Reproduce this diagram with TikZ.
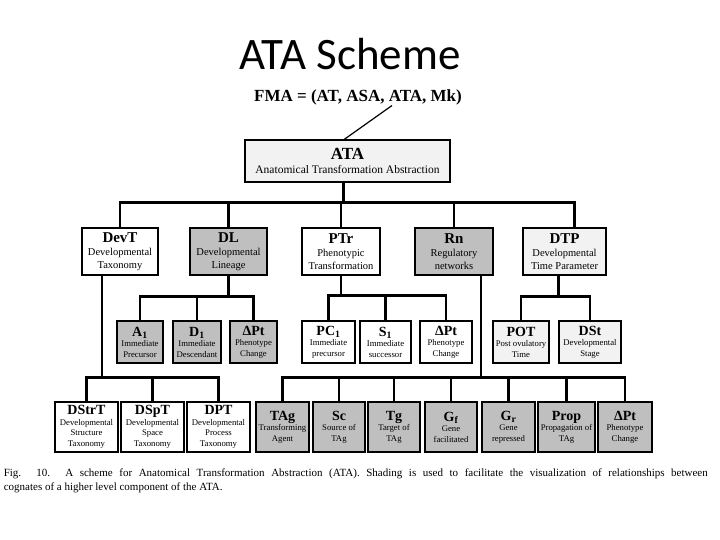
\documentclass[tikz,border=0pt]{standalone}
\usepackage{fontspec}
\setmainfont{Liberation Serif}
\newfontfamily\titlefont{Carlito}
\usepackage{tikz}

\begin{document}
\begin{tikzpicture}[x=1pt,y=-1pt,
    every node/.style={draw, line width=1.6pt, align=center, inner sep=0pt, font=\fontsize{8.7}{10.5}\selectfont},
    big/.style={font=\fontsize{10.5}{13}\selectfont, minimum height=47pt},
    small/.style={minimum height=42pt},
    low/.style={minimum height=50pt},
    conn/.style={line width=2.8pt, line join=miter},
    gray/.style={fill=black!25},
    pale/.style={fill=black!5}]
    \useasboundingbox (0,0) rectangle (720,540);
    \node[draw=none, font=\titlefont\fontsize{45}{45}\selectfont] (title) at (350,54) {ATA Scheme};
    \node[draw=none, font=\fontsize{17}{18}\selectfont\bfseries] (FMA) at (358,97) {FMA = (AT, ASA, ATA, Mk)};
    \node[pale, minimum width=205pt, minimum height=42pt, font=\fontsize{11.5}{14}\selectfont] (ATA) at (347.5,161)
        {{\fontsize{17}{19}\selectfont\bfseries ATA}\\Anatomical Transformation Abstraction};

    % first level
    \node[big, minimum width=76pt] (DevT) at (120,251.5) {{\fontsize{15}{16}\selectfont\bfseries DevT}\\Developmental\\Taxonomy};
    \node[big, gray, minimum width=77pt] (DL) at (228.5,251.5) {{\fontsize{15}{16}\selectfont\bfseries DL}\\Developmental\\Lineage};
    \node[big, minimum width=78pt] (PTr) at (341,251.5) {{\fontsize{15}{16}\selectfont\bfseries PTr}\\Phenotypic\\Transformation};
    \node[big, gray, minimum width=78pt] (Rn) at (454,251.5) {{\fontsize{15}{16}\selectfont\bfseries Rn}\\Regulatory\\networks};
    \node[big, pale, minimum width=83pt] (DTP) at (564.5,251.5) {{\fontsize{15}{16}\selectfont\bfseries DTP}\\Developmental\\Time Parameter};

    % second level
    \node[small, gray, minimum width=46pt] (A1) at (140,342) {{\fontsize{14}{15}\selectfont\bfseries A\textsubscript{1}}\\Immediate\\Precursor};
    \node[small, gray, minimum width=48pt] (D1) at (197,342) {{\fontsize{14}{15}\selectfont\bfseries D\textsubscript{1}}\\Immediate\\Descendant};
    \node[small, gray, minimum width=47pt] (dPtA) at (253.5,342) {{\fontsize{14}{15}\selectfont\bfseries ΔPt}\\Phenotype\\Change};
    \node[small, minimum width=53pt] (PC1) at (328.5,342) {{\fontsize{14}{15}\selectfont\bfseries PC\textsubscript{1}}\\Immediate\\precursor};
    \node[small, minimum width=51pt] (S1) at (385.5,342) {{\fontsize{14}{15}\selectfont\bfseries S\textsubscript{1}}\\Immediate\\successor};
    \node[small, minimum width=52pt] (dPtB) at (446,342) {{\fontsize{14}{15}\selectfont\bfseries ΔPt}\\Phenotype\\Change};
    \node[small, pale, minimum width=56pt] (POT) at (521,342) {{\fontsize{14}{15}\selectfont\bfseries POT}\\Post ovulatory\\Time};
    \node[small, pale, minimum width=62pt] (DSt) at (590,342) {{\fontsize{14}{15}\selectfont\bfseries DSt}\\Developmental\\Stage};

    % third level
    \node[low, minimum width=63pt] (DStrT) at (86.5,427) {{\fontsize{14}{15}\selectfont\bfseries DStrT}\\Developmental\\Structure\\Taxonomy};
    \node[low, minimum width=63pt] (DSpT) at (152.5,427) {{\fontsize{14}{15}\selectfont\bfseries DSpT}\\Developmental\\Space\\Taxonomy};
    \node[low, minimum width=63pt] (DPT) at (218.5,427) {{\fontsize{14}{15}\selectfont\bfseries DPT}\\Developmental\\Process\\Taxonomy};
    \node[low, gray, minimum width=53pt] (TAg) at (282.5,427) {{\fontsize{14}{15}\selectfont\bfseries TAg}\\Transforming\\Agent};
    \node[low, gray, minimum width=52pt] (Sc) at (339,427) {{\fontsize{14}{15}\selectfont\bfseries Sc}\\Source of\\TAg};
    \node[low, gray, minimum width=52pt] (Tg) at (394,427) {{\fontsize{14}{15}\selectfont\bfseries Tg}\\Target of\\TAg};
    \node[low, gray, minimum width=52pt] (Gf) at (451,427) {{\fontsize{14}{15}\selectfont\bfseries G\textsubscript{f}}\\Gene\\facilitated};
    \node[low, gray, minimum width=53pt] (Gr) at (508.5,427) {{\fontsize{14}{15}\selectfont\bfseries G\textsubscript{r}}\\Gene\\repressed};
    \node[low, gray, minimum width=57pt] (Prop) at (566.5,427) {{\fontsize{14}{15}\selectfont\bfseries Prop}\\Propagation of\\TAg};
    \node[low, gray, minimum width=54pt] (dPtC) at (625,427) {{\fontsize{14}{15}\selectfont\bfseries ΔPt}\\Phenotype\\Change};

    \node[draw=none, anchor=north west, text width=704pt, align=justify, font=\fontsize{11}{14}\selectfont] (caption) at (3,468)
        {Fig. 10. A scheme for Anatomical Transformation Abstraction (ATA). Shading is used to facilitate the visualization of relationships between\linebreak cognates of a higher level component of the ATA.};

    \draw[line width=1.2pt] ([xshift=34pt]FMA.south) -- ([xshift=-3pt]ATA.north);

    \draw[conn] ([xshift=-4pt]ATA.south) -- ++(0,20) -| (DevT.north);
    \draw[conn] ([xshift=-4pt]ATA.south) -- ++(0,20) -| (DL.north);
    \draw[conn] ([xshift=-4pt]ATA.south) -- ++(0,20) -| (PTr.north);
    \draw[conn] ([xshift=-4pt]ATA.south) -- ++(0,20) -| (Rn.north);
    \draw[conn] ([xshift=-4pt]ATA.south) -- ++(0,20) -| ([xshift=10pt]DTP.north);

    \draw[conn] (DL.south) -- ++(0,21) -| (A1.north);
    \draw[conn] (DL.south) -- ++(0,21) -| (D1.north);
    \draw[conn] (DL.south) -- ++(0,21) -| (dPtA.north);
    \draw[conn] (PTr.south) -- ++(0,20) -| (PC1.north);
    \draw[conn] (PTr.south) -- ++(0,20) -| (S1.north);
    \draw[conn] (PTr.south) -- ++(0,20) -| (dPtB.north);
    \draw[conn] ([xshift=-6pt]DTP.south) -- ++(0,21) -| (POT.north);
    \draw[conn] ([xshift=-6pt]DTP.south) -- ++(0,21) -| (DSt.north);

    \draw[conn] ([xshift=-18pt]DevT.south) -- ++(0,102) -| (DStrT.north);
    \draw[conn] ([xshift=-18pt]DevT.south) -- ++(0,102) -| (DSpT.north);
    \draw[conn] ([xshift=-18pt]DevT.south) -- ++(0,102) -| (DPT.north);
    \foreach \c in {TAg,Sc,Tg,Gf,Gr,Prop,dPtC}
        \draw[conn] ([xshift=27pt]Rn.south) -- ++(0,102) -| (\c.north);
\end{tikzpicture}
\end{document}
